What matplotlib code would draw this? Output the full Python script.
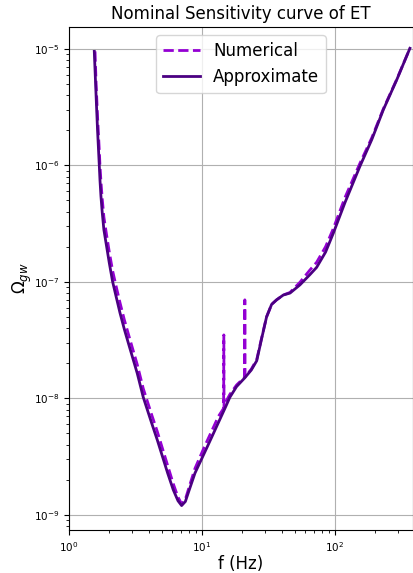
import matplotlib
matplotlib.use("Agg")
import matplotlib.pyplot as plt

# ET nominal sensitivity, Omega_gw vs frequency (Hz)
freq_approx = [1.55, 1.60, 1.64, 1.69, 1.71, 1.74, 1.78, 1.83, 1.92, 2.01,
               2.13, 2.26, 2.42, 2.61, 2.84, 3.26, 3.62, 4.19, 4.61, 5.03,
               5.52, 6.08, 6.6, 7.03, 7.5, 8.03, 8.86, 10.5, 11.8, 13.3,
               15.1, 16.2, 18.2, 21.0, 23.5, 25.8, 28.0, 30.6, 33.4, 36.4,
               40.9, 45.9, 54.5, 64.7, 72.8, 85.0, 97.0, 119.0, 154.0, 189.0,
               231.0, 291.0, 366.0]
omega_approx = [9.5e-6, 3.9e-6, 2.0e-6, 1.0e-6, 7.5e-7, 5.4e-7, 3.9e-7, 2.8e-7,
                2.0e-7, 1.45e-7, 1.0e-7, 7.5e-8, 5.4e-8, 3.9e-8, 2.8e-8, 1.64e-8,
                1.02e-8, 6.1e-9, 4.4e-9, 3.2e-9, 2.28e-9, 1.64e-9, 1.32e-9,
                1.2e-9, 1.3e-9, 1.64e-9, 2.28e-9, 3.45e-9, 4.6e-9, 6.2e-9, 8.5e-9,
                1.02e-8, 1.26e-8, 1.5e-8, 1.75e-8, 2.1e-8, 3.2e-8, 5.0e-8, 6.4e-8,
                7.0e-8, 7.7e-8, 8.0e-8, 9.4e-8, 1.15e-7, 1.33e-7, 1.8e-7, 2.6e-7,
                4.8e-7, 9.8e-7, 1.66e-6, 3.0e-6, 5.4e-6, 1.01e-5]

freq_num = [1.57, 1.60, 1.64, 1.69, 1.71, 1.74, 1.78, 1.83, 1.92, 2.01,
            2.13, 2.26, 2.42, 2.61, 2.84, 3.26, 3.62, 4.19, 4.61, 5.03,
            5.52, 6.08, 6.6, 7.03, 7.5, 8.03, 8.86, 10.5, 11.8, 13.3,
            14.55, 14.6, 14.65, 15.1, 16.2, 18.2, 20.95, 21.0, 21.05, 23.5,
            25.8, 28.0, 30.6, 33.4, 36.4, 40.9, 45.9, 54.5, 64.7, 72.8,
            85.0, 97.0, 119.0, 154.0, 189.0, 231.0, 291.0, 366.0]
omega_num = [9.5e-6, 5.0e-6, 2.6e-6, 1.35e-6, 1.0e-6, 7.2e-7, 5.1e-7, 3.6e-7,
             2.5e-7, 1.8e-7, 1.24e-7, 9.2e-8, 6.6e-8, 4.7e-8, 3.35e-8, 1.95e-8,
             1.21e-8, 7.2e-9, 5.2e-9, 3.75e-9, 2.65e-9, 1.85e-9, 1.42e-9,
             1.24e-9, 1.36e-9, 1.75e-9, 2.5e-9, 3.9e-9, 5.2e-9, 7.0e-9,
             8.2e-9, 3.5e-8, 8.3e-9, 9.3e-9, 1.08e-8, 1.3e-8, 1.52e-8, 7.0e-8,
             1.52e-8, 1.78e-8, 2.15e-8, 3.25e-8, 5.0e-8, 6.4e-8, 7.0e-8, 7.7e-8,
             8.1e-8, 9.9e-8, 1.26e-7, 1.47e-7, 2.0e-7, 2.85e-7, 5.3e-7, 1.04e-6,
             1.72e-6, 3.05e-6, 5.45e-6, 1.01e-5]

fig = plt.figure(figsize=(4.13, 5.73), dpi=100)
ax = fig.add_axes([0.167, 0.075, 0.833, 0.878])

ax.plot(freq_num, omega_num, '--', color='darkviolet', lw=2, label='Numerical')
ax.plot(freq_approx, omega_approx, '-', color='indigo', lw=2, label='Approximate')

ax.set_xscale('log')
ax.set_yscale('log')
ax.set_xlim(1, 386)
ax.set_ylim(7.4e-10, 1.54e-5)
ax.grid(True, which='major', color='#b0b0b0', lw=0.8)
ax.tick_params(labelsize=7.5)

ax.set_title('Nominal Sensitivity curve of ET', fontsize=12)
ax.set_xlabel('f (Hz)', fontsize=12, labelpad=1)
ax.set_ylabel(r'$\Omega_{gw}$', fontsize=12, labelpad=0)
ax.legend(loc='upper center', fontsize=12, handlelength=2.2)

fig.savefig('out.png', dpi=100)
